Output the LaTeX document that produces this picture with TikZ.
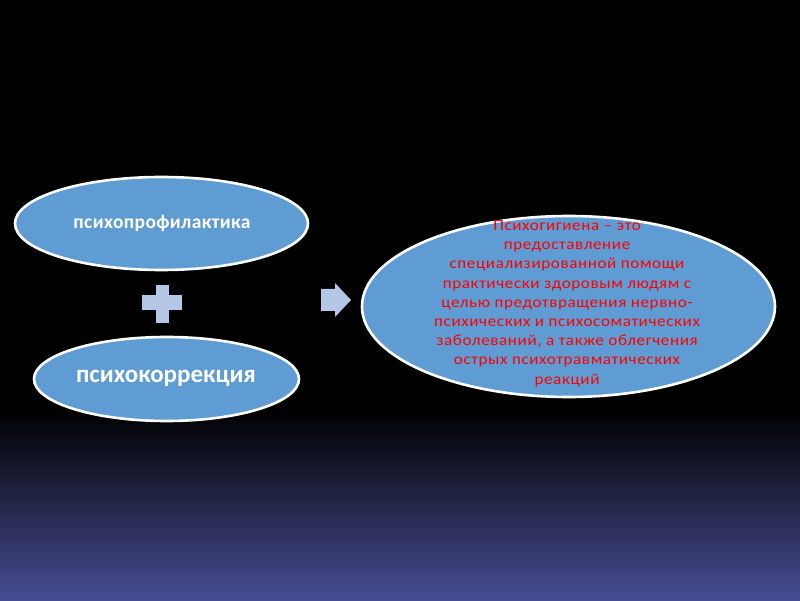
\documentclass[tikz,border=0pt]{standalone}
\usepackage{fontspec}
\setmainfont{Carlito}
\newfontfamily\wideredfont[FakeStretch=1.1,LetterSpace=4]{Carlito}
\newfontfamily\spacedbold[LetterSpace=2]{Carlito}
\usetikzlibrary{shapes.geometric}
\definecolor{ellfill}{RGB}{94,156,211}
\definecolor{shapeblue}{RGB}{180,199,231}
\definecolor{bgblue}{RGB}{72,77,147}
\definecolor{txtred}{RGB}{255,0,0}
\tikzset{
  oval/.style={ellipse, draw=white, line width=2.6pt, fill=ellfill, inner sep=0pt},
  lefttext/.style={text=white},
}
\begin{document}
\begin{tikzpicture}[x=1pt,y=1pt]
\useasboundingbox (0,0) rectangle (800,600);
\fill[black] (0,190) rectangle (800,600);
\shade[top color=black, bottom color=bgblue] (0,0) rectangle (800,191);
% left ovals
\node[oval, minimum width=293pt, minimum height=93pt] (prof) at (161.5,376.5) {};
\node[lefttext, font=\spacedbold\fontsize{19.5}{23}\bfseries\selectfont] (proft) at (162,377) {психопрофилактика};
\node[oval, minimum width=265pt, minimum height=84pt] (corr) at (166.5,221) {};
\node[lefttext, font=\fontsize{25}{30}\bfseries\selectfont] (corrt) at (166,222) {психокоррекция};
% plus
\fill[shapeblue] (155.5,277) rectangle (168.5,315);
\fill[shapeblue] (142,290) rectangle (182,305);
% arrow
\fill[shapeblue] (321,289) -- (335,289) -- (335,283) -- (351,300) -- (335,317) -- (335,311) -- (321,311) -- cycle;
% big oval
\node[oval, minimum width=413pt, minimum height=181pt] (hyg) at (568.5,293.5) {};
\node[text=txtred, align=center, font=\wideredfont\fontsize{15.5}{19.2}\selectfont] (hygt) at (567,296.5) {Психогигиена – это\\предоставление\\специализированной помощи\\практически здоровым людям с\\целью предотвращения нервно-\\психических и психосоматических\\заболеваний, а также облегчения\\острых психотравматических\\реакций};
\end{tikzpicture}
\end{document}
